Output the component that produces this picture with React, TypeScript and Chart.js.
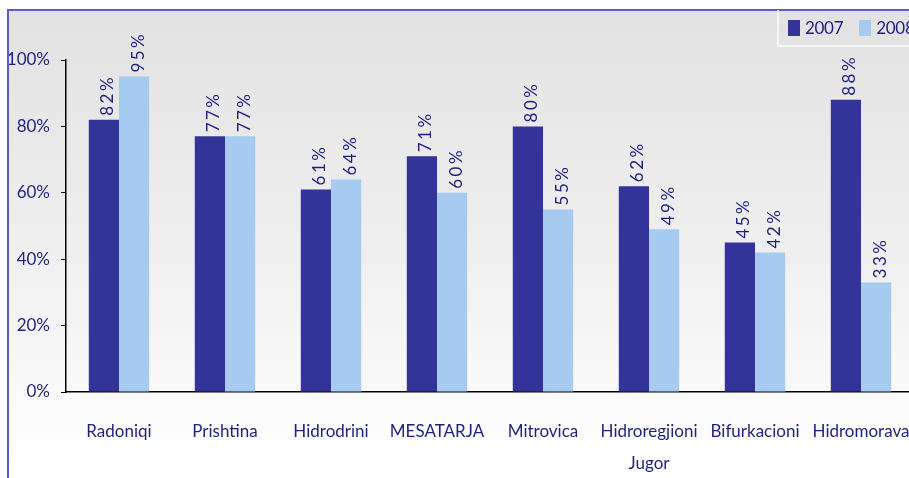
import React, { useEffect, useRef } from "react";
import { Chart, registerables } from "chart.js";

Chart.register(...registerables);

const categories: (string | string[])[] = [
  "Radoniqi",
  "Prishtina",
  "Hidrodrini",
  "MESATARJA",
  "Mitrovica",
  ["Hidroregjioni", "Jugor"],
  "Bifurkacioni",
  "Hidromorava",
];
const seriesNames = ["2007", "2008"];
const values2007 = [82, 77, 61, 71, 80, 62, 45, 88];
const values2008 = [95, 77, 64, 60, 55, 49, 42, 33];
const seriesColors = ["#333399", "#a6caf0"];
const yTicks = [0, 20, 40, 60, 80, 100];

const TEXT = "#1f1f80";
const FONT = "Lato, 'Open Sans', sans-serif";

const labelPlugin = {
  id: "barLabels",
  afterDatasetsDraw(chart: any) {
    const ctx = chart.ctx;
    chart.data.datasets.forEach((ds: any, di: number) => {
      const meta = chart.getDatasetMeta(di);
      meta.data.forEach((el: any, i: number) => {
        const v = ds.data[i];
        ctx.save();
        ctx.font = `17px ${FONT}`;
        ctx.fillStyle = TEXT;
        try {
          (ctx as any).letterSpacing = "2.5px";
        } catch (e) {}
        ctx.translate(el.x + 4, el.y - 4);
        ctx.rotate(-Math.PI / 2);
        ctx.textAlign = "left";
        ctx.textBaseline = "middle";
        ctx.fillText(v + "%", 0, 0);
        ctx.restore();
      });
    });
  },
};

export default function App() {
  const ref = useRef<HTMLCanvasElement>(null);
  useEffect(() => {
    document.documentElement.style.overflow = "hidden";
    document.body.style.overflow = "hidden";
    if (!ref.current) return;
    const chart = new Chart(ref.current, {
      type: "bar",
      data: {
        labels: categories as any,
        datasets: [
          {
            label: seriesNames[0],
            data: values2007,
            backgroundColor: seriesColors[0],
            categoryPercentage: 0.57,
            barPercentage: 1,
          },
          {
            label: seriesNames[1],
            data: values2008,
            backgroundColor: seriesColors[1],
            categoryPercentage: 0.57,
            barPercentage: 1,
          },
        ],
      },
      options: {
        responsive: false,
        animation: false,
        devicePixelRatio: 1,
        layout: { padding: { top: 49, right: 0, left: 0, bottom: 0 } },
        plugins: {
          legend: { display: false },
          tooltip: { enabled: false },
        },
        scales: {
          x: {
            afterFit: (s: any) => {
              s.height = 86;
              s.paddingLeft = 0;
              s.paddingRight = 0;
            },
            grid: { display: false, drawTicks: false },
            border: { display: true, color: "#000", width: 1.5 },
            ticks: {
              color: TEXT,
              font: { family: FONT, size: 17, lineHeight: 1.85 },
              padding: 24,
              maxRotation: 0,
              autoSkip: false,
            },
          },
          y: {
            min: 0,
            max: 100,
            afterFit: (s: any) => {
              s.width = 57;
            },
            afterBuildTicks: (s: any) => {
              s.ticks = yTicks.map((v) => ({ value: v }));
            },
            grid: {
              drawOnChartArea: false,
              drawTicks: true,
              tickLength: 5,
              color: "#000",
            },
            border: { display: true, color: "#000", width: 1.5 },
            ticks: {
              color: TEXT,
              font: { family: FONT, size: 17 },
              padding: 11,
              callback: (v: any) => v + "%",
            },
          },
        },
      },
      plugins: [labelPlugin],
    });
    return () => chart.destroy();
  }, []);

  return (
    <div
      style={{
        position: "fixed",
        left: 0,
        top: 0,
        width: 909,
        height: 478,
        overflow: "hidden",
        background: "#ffffff",
      }}
    >
      <div
        style={{
          position: "absolute",
          left: 7,
          top: 9,
          width: 940,
          height: 500,
          borderLeft: "2px solid #5b5bd6",
          borderTop: "2px solid #5b5bd6",
          background: "linear-gradient(to bottom, #e2e2e2 0%, #f0f0f0 50%, #ffffff 90%)",
        }}
      >
        <canvas
          ref={ref}
          width={905}
          height={467}
          style={{ position: "absolute", left: 0, top: 0, width: 905, height: 467 }}
        />
        <div
          style={{
            position: "absolute",
            left: 768,
            top: -1,
            width: 200,
            height: 35,
            borderLeft: "2px solid #f6f6f6",
            borderBottom: "2px solid #f6f6f6",
            display: "flex",
            alignItems: "center",
            fontFamily: FONT,
            fontSize: 17,
            color: TEXT,
            paddingLeft: 9,
            boxSizing: "content-box",
          }}
        >
          {seriesNames.map((n, i) => (
            <div key={n} style={{ display: "flex", alignItems: "center", marginRight: 16 }}>
              <div style={{ width: 12, height: 16, background: seriesColors[i], marginRight: 5 }} />
              <span style={{ letterSpacing: -0.3 }}>{n}</span>
            </div>
          ))}
        </div>
      </div>
    </div>
  );
}
